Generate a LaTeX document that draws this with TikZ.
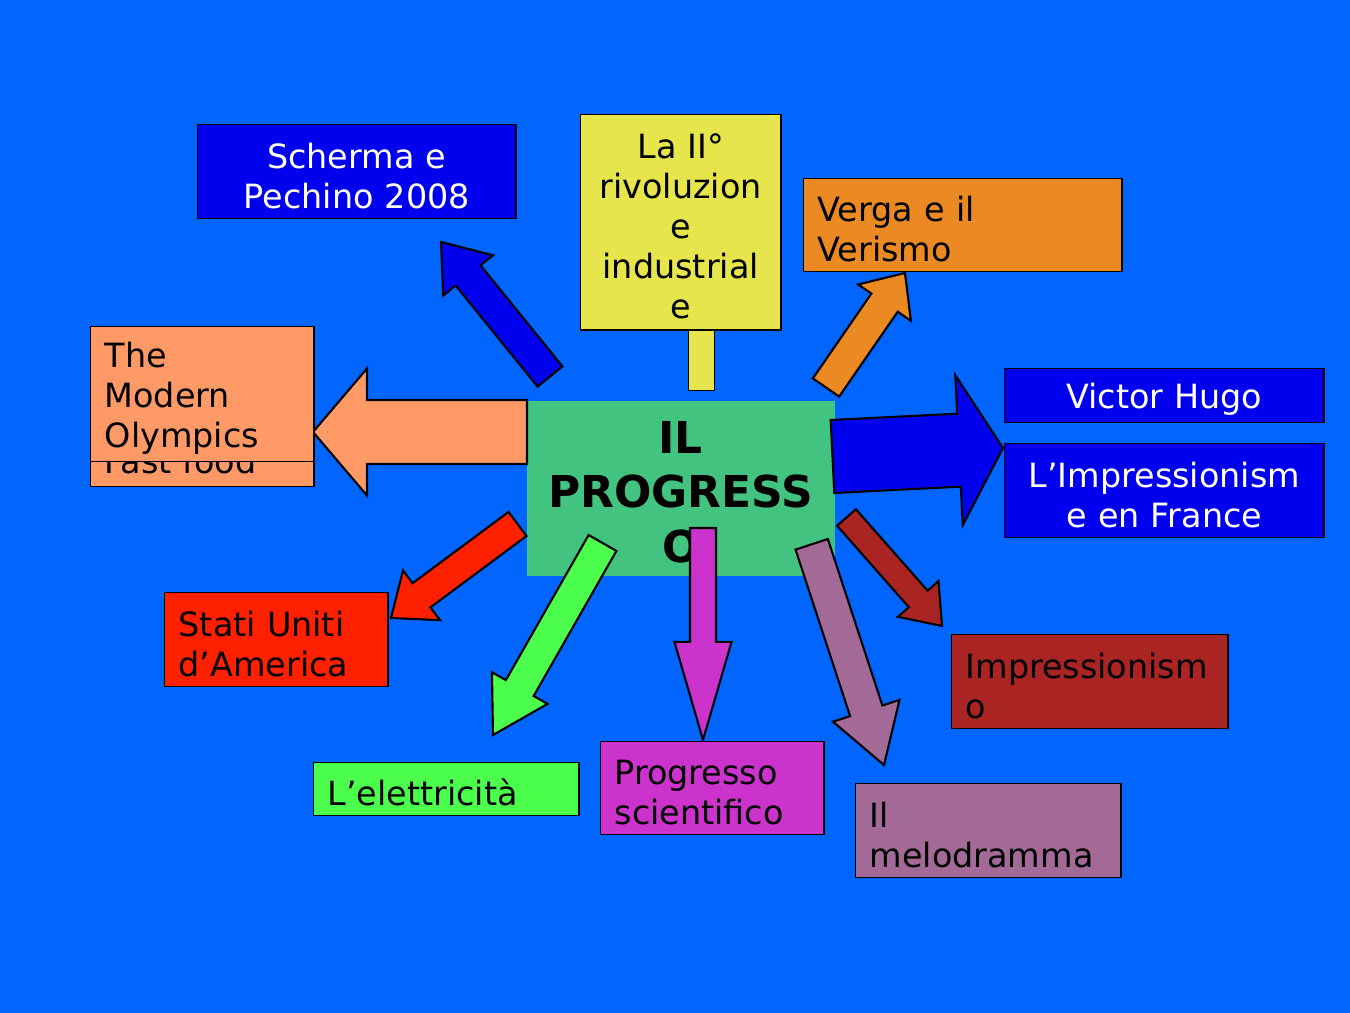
\documentclass[tikz,border=0pt]{standalone}
\usepackage{fontspec}
\setmainfont{DejaVu Sans}
\usepackage{tikz}
\usetikzlibrary{calc, positioning}
\definecolor{bgblue}{RGB}{0,102,255}
\definecolor{darkblue}{RGB}{0,0,238}
\definecolor{myyellow}{RGB}{230,230,76}
\definecolor{myorange}{RGB}{235,137,35}
\definecolor{mysalmon}{RGB}{255,153,102}
\definecolor{myred}{RGB}{255,32,0}
\definecolor{mygreen}{RGB}{77,255,77}
\definecolor{mymagenta}{RGB}{204,51,204}
\definecolor{mymauve}{RGB}{163,106,152}
\definecolor{mydarkred}{RGB}{170,36,36}
\definecolor{midgreen}{RGB}{66,196,128}
\newcommand{\boxfont}{\fontsize{9.5pt}{11.4pt}\selectfont}
\tikzset{
  box/.style={rectangle, draw=black, line width=0.4pt, inner xsep=0.14cm,
    inner ysep=0pt, font=\boxfont, anchor=north west, text height=9.5pt},
  leftbox/.style={box, align=left},
  midbox/.style={box, align=center},
  whitebox/.style={midbox, fill=darkblue, text=white},
  centre/.style={rectangle, fill=midgreen, inner xsep=0.14cm, inner ysep=0pt,
    align=center, anchor=north west, text height=11.4pt,
    font=\fontsize{12.5pt}{15.4pt}\selectfont\bfseries},
  fatarrow/.style={draw=black, line width=0.6pt, line join=miter}
}
% block arrow: colour, tail, tip, shaft half width, head half width, head length
\newcommand{\bigarrow}[6]{%
  \coordinate (hb) at ($(#3)!#6!(#2)$);
  \filldraw[fatarrow, fill=#1] ($(#2)!#4!90:(#3)$) -- ($(hb)!#4!90:(#3)$)
    -- ($(hb)!#5!90:(#3)$) -- (#3) -- ($(hb)!#5!-90:(#3)$)
    -- ($(hb)!#4!-90:(#3)$) -- ($(#2)!#4!-90:(#3)$) -- cycle;
}

\begin{document}
\begin{tikzpicture}[x=0.01cm, y=-0.01cm]
  \useasboundingbox (0,0) rectangle (1350,1013);
  \fill[bgblue] (0,0) rectangle (1350,1013);

  % centre
  \node [centre, text width=2.80cm, minimum height=1.75cm] (prog) at (526,400) {IL\\PROGRESS\\O};

  % arrow ends
  \coordinate (sch-tail) at (550,376.5);  \coordinate (sch-tip) at (441,242);
  \coordinate (ver-tail) at (826,387.5);  \coordinate (ver-tip) at (905,273);
  \coordinate (sta-tail) at (517.5,524);  \coordinate (sta-tip) at (391,618);
  \coordinate (ele-tail) at (602.5,543);  \coordinate (ele-tip) at (493,735);
  \coordinate (sci-tail) at (703,528);    \coordinate (sci-tip) at (703,740);
  \coordinate (mel-tail) at (811.7,544.3); \coordinate (mel-tip) at (884,765);
  \coordinate (imp-tail) at (846.5,517.5); \coordinate (imp-tip) at (942,626);
  \coordinate (hug-tail) at (832.5,456.5); \coordinate (hug-tip) at (1003,448);
  \coordinate (oly-tail) at (527,432);    \coordinate (oly-tip) at (313,432);

  \bigarrow{darkblue}{sch-tail}{sch-tip}{0.16cm}{0.32cm}{0.43cm}
  \bigarrow{myorange}{ver-tail}{ver-tip}{0.16cm}{0.32cm}{0.36cm}
  \bigarrow{myred}{sta-tail}{sta-tip}{0.15cm}{0.31cm}{0.38cm}
  \bigarrow{mygreen}{ele-tail}{ele-tip}{0.16cm}{0.32cm}{0.54cm}
  \bigarrow{mymagenta}{sci-tail}{sci-tip}{0.13cm}{0.285cm}{0.98cm}
  \bigarrow{mymauve}{mel-tail}{mel-tip}{0.17cm}{0.35cm}{0.57cm}
  \bigarrow{mydarkred}{imp-tail}{imp-tip}{0.125cm}{0.27cm}{0.36cm}
  \bigarrow{darkblue}{hug-tail}{hug-tip}{0.365cm}{0.75cm}{0.44cm}
  \bigarrow{mysalmon}{oly-tail}{oly-tip}{0.32cm}{0.635cm}{0.54cm}

  % boxes
  \node [whitebox, text width=2.90cm, minimum height=0.94cm] (scherma) at (197,124) {Scherma e\\Pechino 2008};
  \node [midbox, fill=myyellow, text width=1.72cm, minimum height=2.15cm] (rev) at (580,114) {La II°\\rivoluzion\\e\\industrial\\e};
  \draw [box, fill=myyellow] ($(rev.south)+(8,0)$) rectangle ($(rev.south)+(34,60)$);
  \node [leftbox, fill=myorange, text width=2.90cm, minimum height=0.93cm] (verga) at (803,178) {Verga e il\\Verismo};
  \node [draw=black, line width=0.4pt, fill=mysalmon, anchor=north west, inner sep=0pt, minimum width=2.23cm, minimum height=1.60cm] (fastbox) at (90,326) {};
  \node [font=\boxfont, anchor=base west, inner sep=0pt] (fast) at (104,474) {Fast food};
  \node [leftbox, fill=mysalmon, text width=1.95cm, minimum height=1.35cm] (olymp) at (90,326) {The\\Modern\\Olympics};
  \node [whitebox, text width=2.91cm, minimum height=0.54cm] (hugo) at (1004,368) {Victor Hugo};
  \node [whitebox, text width=2.91cm, minimum height=0.94cm] (impfr) at (1004,443) {L’Impressionism\\e en France};
  \node [leftbox, fill=myred, text width=1.95cm, minimum height=0.94cm] (stati) at (164,592) {Stati Uniti\\d’America};
  \node [leftbox, fill=mygreen, text width=2.37cm, minimum height=0.53cm] (elet) at (313,762) {L’elettricità};
  \node [leftbox, fill=mymagenta, text width=1.95cm, minimum height=0.93cm] (scien) at (600,741) {Progresso\\scientifico};
  \node [leftbox, fill=mymauve, text width=2.37cm, minimum height=0.94cm] (melo) at (855,783) {Il\\melodramma};
  \node [leftbox, fill=mydarkred, text width=2.48cm, minimum height=0.94cm] (impr) at (951,634) {Impressionism\\o};
\end{tikzpicture}
\end{document}
